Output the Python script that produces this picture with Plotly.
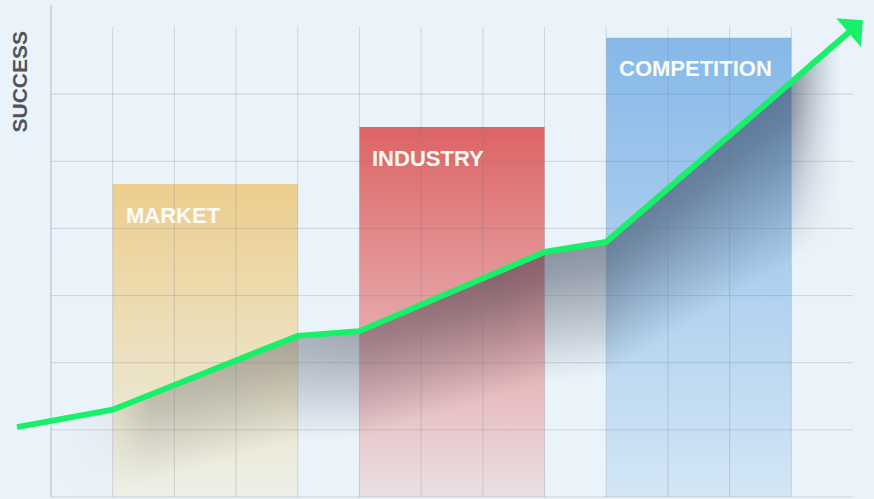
import numpy as np
import plotly.graph_objects as go

# ---------------- data ----------------
categories = ["MARKET", "INDUSTRY", "COMPETITION"]
bar_values = [4.66, 5.51, 6.84]
bar_top_colors = ["#ecce8e", "#dd6464", "#86b8e8"]
bar_bottom_colors = ["#edf0e8", "#ebe0e4", "#d3e6f5"]

success_x = [-0.55, 1.0, 4.0, 5.0, 8.0, 9.0, 13.16]
success_y = [1.04, 1.30, 2.40, 2.47, 3.65, 3.80, 7.10]

x_grid = list(range(1, 13))
y_grid = list(range(0, 7))
y_axis_label = "SUCCESS"

# ---------------- figure ----------------
W, H = 874, 499
BG = "#ebf3fa"
GREEN = "#18f06a"
col = (853 - 51) / 13
row = (497 - 27) / 7

fig = go.Figure()

# bars with vertical gradient
for i, (cat, val) in enumerate(zip(categories, bar_values)):
    x0 = 1 + 4 * i
    x1 = x0 + 3
    fig.add_trace(go.Scatter(
        x=[x0, x1, x1, x0, x0], y=[0, 0, val, val, 0],
        mode="lines", fill="toself", line=dict(width=0),
        fillgradient=dict(type="vertical", start=0, stop=val,
                          colorscale=[[0, bar_bottom_colors[i]], [1, bar_top_colors[i]]]),
        hoverinfo="skip", showlegend=False))

# soft shadow under the success line (pixel aligned slices)
sx = np.array(success_x)
sy = np.array(success_y)
spx = 3
for p in range(54, 846, spx):
    xa = (p - 51) / col
    xb = (p + spx - 51) / col
    ya = float(np.interp(xa, sx, sy))
    yb = float(np.interp(xb, sx, sy))
    top = max(ya, yb)
    fade = 0.3 * top + 0.85
    a = min(0.15 + 0.045 * xa, 0.48)
    if xa > 12.0:
        a *= max(0.0, 1 - (xa - 12.0) / 0.8) ** 1.3
    if xa < 1.6:
        a *= 0.25 + 0.75 * max(0.0, (xa - 0.95) / 0.65) if xa > 0.95 else 0.25 * xa / 0.95
    c = "35,45,65"
    fig.add_trace(go.Scatter(
        x=[xa, xb, xb, xa, xa], y=[ya, yb, 0, 0, ya],
        mode="lines", fill="toself", line=dict(width=0),
        fillgradient=dict(type="vertical", start=top - fade, stop=top,
                          colorscale=[[0, f"rgba({c},0)"],
                                      [0.45, f"rgba({c},{a*0.5:.3f})"],
                                      [0.8, f"rgba({c},{a*0.88:.3f})"],
                                      [1, f"rgba({c},{a:.3f})"]]),
        hoverinfo="skip", showlegend=False))

# grid lines (drawn over the bars)
gx, gy = [], []
for v in x_grid:
    gx += [v, v, None]
    gy += [0, 7, None]
for v in y_grid:
    gx += [0, 13, None]
    gy += [v, v, None]
fig.add_trace(go.Scatter(x=gx, y=gy, mode="lines",
                         line=dict(color="rgba(110,122,138,0.25)", width=1),
                         hoverinfo="skip", showlegend=False))
# y axis line
fig.add_trace(go.Scatter(x=[0, 0], y=[0, 7.33], mode="lines",
                         line=dict(color="rgba(110,122,138,0.45)", width=1),
                         hoverinfo="skip", showlegend=False))

# success line, ending inside the arrow head
dxp = (success_x[-1] - success_x[-2]) * col
dyp = (success_y[-1] - success_y[-2]) * row
L = (dxp ** 2 + dyp ** 2) ** 0.5
ux, uy = dxp / L, dyp / L
back = 12
line_x = success_x[:-1] + [success_x[-1] - back * ux / col]
line_y = success_y[:-1] + [success_y[-1] - back * uy / row]
fig.add_trace(go.Scatter(x=line_x, y=line_y, mode="lines",
                         line=dict(color=GREEN, width=6),
                         hoverinfo="skip", showlegend=False))

# arrow head
tail = 20
fig.add_annotation(x=success_x[-1], y=success_y[-1],
                   ax=success_x[-1] - tail * ux / col, ay=success_y[-1] - tail * uy / row,
                   xref="x", yref="y", axref="x", ayref="y", text="",
                   showarrow=True, arrowhead=1, arrowsize=1.05, arrowwidth=6,
                   arrowcolor=GREEN, standoff=0)

# labels
for i, (cat, val) in enumerate(zip(categories, bar_values)):
    fig.add_annotation(x=1 + 4 * i, y=val, text=f"<b>{cat}</b>", showarrow=False,
                       xanchor="left", yanchor="middle", xshift=11, yshift=-31,
                       font=dict(family="Liberation Sans, Arial, sans-serif", size=22,
                                 color="#fbfbf8"))

fig.add_annotation(xref="paper", yref="paper", x=19 / W, y=1 - 81.5 / H,
                   text=f"<b>{y_axis_label}</b>", textangle=-90, showarrow=False,
                   xanchor="center", yanchor="middle",
                   font=dict(family="Liberation Sans, Arial, sans-serif", size=21,
                             color="#505459"))

fig.update_layout(
    width=W, height=H, margin=dict(l=0, r=0, t=0, b=0),
    paper_bgcolor=BG, plot_bgcolor=BG,
    xaxis=dict(range=[-51 / col, (W - 51) / col], visible=False, fixedrange=True),
    yaxis=dict(range=[-(H - 497) / row, 497 / row], visible=False, fixedrange=True),
    showlegend=False,
)
fig.write_html("out.html")
